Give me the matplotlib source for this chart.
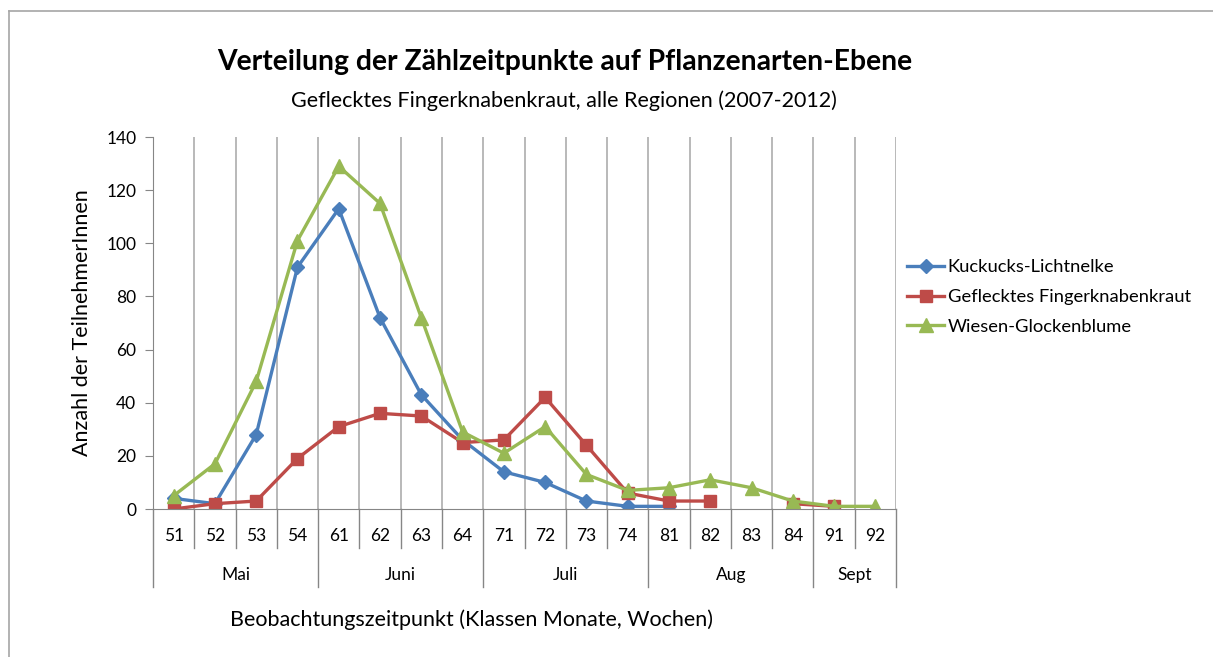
import numpy as np
import matplotlib.pyplot as plt
from matplotlib.lines import Line2D

plt.rcParams['font.family'] = ['Lato', 'DejaVu Sans']

weeks = ['51', '52', '53', '54', '61', '62', '63', '64', '71', '72', '73', '74',
         '81', '82', '83', '84', '91', '92']
months = ['Mai', 'Juni', 'Juli', 'Aug', 'Sept']
month_sizes = [4, 4, 4, 4, 2]

nan = np.nan
kuckuck = [4, 2, 28, 91, 113, 72, 43, 26, 14, 10, 3, 1, 1, nan, nan, nan, nan, nan]
geflecktes = [0, 2, 3, 19, 31, 36, 35, 25, 26, 42, 24, 6, 3, 3, nan, 2, 1, nan]
wiesen = [5, 17, 48, 101, 129, 115, 72, 29, 21, 31, 13, 7, 8, 11, 8, 3, 1, 1]

series_names = ['Kuckucks-Lichtnelke', 'Geflecktes Fingerknabenkraut', 'Wiesen-Glockenblume']

fig = plt.figure(figsize=(12.13, 6.57), dpi=100)
ax = fig.add_axes([153 / 1213, 1 - 509 / 657, 743 / 1213, 372 / 657])

x = np.arange(len(weeks))
ax.plot(x, kuckuck, color='#4A7EBB', lw=2.4, marker='D', ms=7, label=series_names[0])
ax.plot(x, geflecktes, color='#BE4B48', lw=2.4, marker='s', ms=9, label=series_names[1])
ax.plot(x, wiesen, color='#98B954', lw=2.4, marker='^', ms=10, label=series_names[2])

ax.set_xlim(-0.5, len(weeks) - 0.5)
ax.set_ylim(0, 140)
ax.set_yticks(range(0, 141, 20))
ax.tick_params(axis='y', labelsize=12.5, length=6, color='#868686', pad=6)
ax.set_xticks([])

for s in ['top', 'right']:
    ax.spines[s].set_visible(False)
ax.spines['left'].set_color('#868686')
ax.spines['bottom'].set_color('#868686')

# vertical gridlines at category boundaries
for b in np.arange(0.5, len(weeks) - 0.5, 1):
    ax.axvline(b, color='#A6A6A6', lw=1.1, zorder=0)
ax.axvline(len(weeks) - 0.5, color='#A6A6A6', lw=1.1, zorder=0)

# category axis, two levels
trans = ax.get_xaxis_transform()
short = -39 / 372
long_ = -78 / 372
month_edges = np.cumsum([0] + month_sizes) - 0.5
for i, w in enumerate(weeks):
    ax.text(i, -27 / 372, w, transform=trans, ha='center', va='center', fontsize=12.5)
for b in np.arange(-0.5, len(weeks), 1):
    y_end = long_ if b in month_edges else short
    ax.plot([b, b], [0, y_end], transform=trans, color='#868686', lw=1, clip_on=False)
for k, m in enumerate(months):
    c = (month_edges[k] + month_edges[k + 1]) / 2
    ax.text(c, -66 / 372, m, transform=trans, ha='center', va='center', fontsize=12.5)

ax.set_ylabel('Anzahl der TeilnehmerInnen', fontsize=15.5, labelpad=10)
fig.text(471 / 1213, 1 - 620 / 657, 'Beobachtungszeitpunkt (Klassen Monate, Wochen)',
         ha='center', va='center', fontsize=15.5)

fig.text(565 / 1213, 1 - 62 / 657, 'Verteilung der Zählzeitpunkte auf Pflanzenarten-Ebene',
         ha='center', va='center', fontsize=20.3, fontweight='bold')
fig.text(564 / 1213, 1 - 101 / 657, 'Geflecktes Fingerknabenkraut, alle Regionen (2007-2012)',
         ha='center', va='center', fontsize=15.5)

ax.legend(loc='center left', bbox_to_anchor=(900 / 1213, 1 - 297 / 657),
          bbox_transform=fig.transFigure, frameon=False, fontsize=13.2,
          handlelength=2.0, handletextpad=0.2, labelspacing=0.75, borderaxespad=0)

# chart area border (left and top)
fig.add_artist(Line2D([9 / 1213, 9 / 1213], [0, 1 - 11 / 657], transform=fig.transFigure,
                      color='#A6A6A6', lw=1.2))
fig.add_artist(Line2D([9 / 1213, 1], [1 - 11 / 657, 1 - 11 / 657], transform=fig.transFigure,
                      color='#A6A6A6', lw=1.2))

fig.savefig('out.png', dpi=100)
